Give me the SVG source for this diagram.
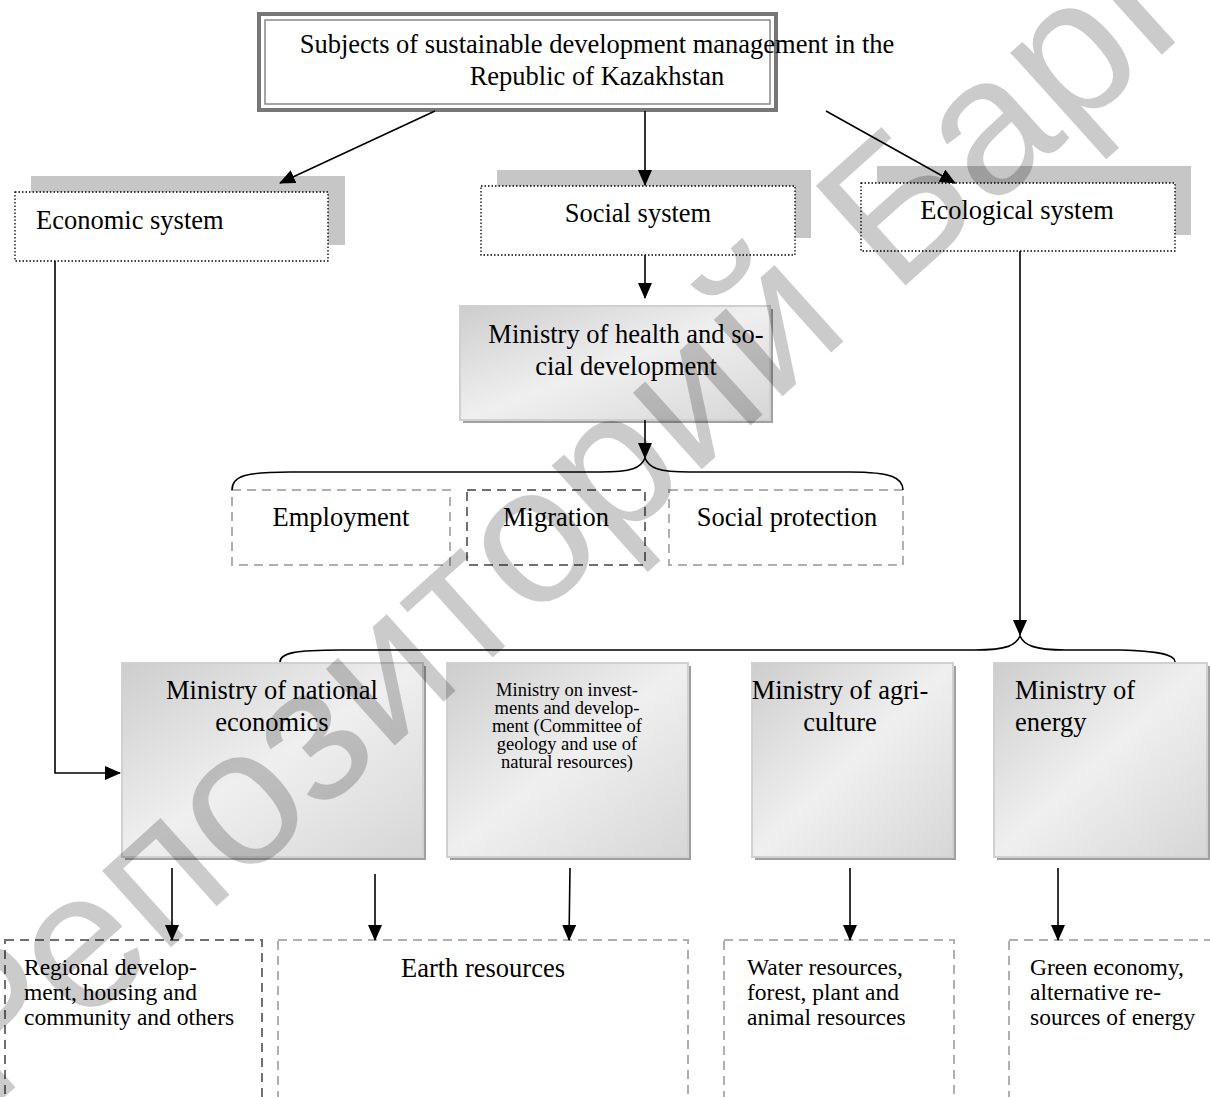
<svg xmlns="http://www.w3.org/2000/svg" width="1210" height="1097" viewBox="0 0 1210 1097">
<defs>
<marker id="ah" markerWidth="16" markerHeight="14" refX="15" refY="7" orient="auto" markerUnits="userSpaceOnUse">
<path d="M0,0 L16,7 L0,14 Z" fill="#000"/>
</marker>
<linearGradient id="g" x1="0" y1="0" x2="1" y2="1">
<stop offset="0" stop-color="#cdcdcd"/>
<stop offset="0.5" stop-color="#efefef"/>
<stop offset="1" stop-color="#d6d6d6"/>
</linearGradient>
<style>
text{font-family:"Liberation Serif","Times New Roman",serif;fill:#000;}
.t22{font-size:26.5px;}
.t19{font-size:23.5px;}
.t17{font-size:18.5px;}
.dot{fill:#fff;stroke:#000;stroke-width:1.3;stroke-dasharray:1.5 2;}
.sh{fill:#c6c6c6;}
.min{fill:url(#g);stroke:#d0d0d0;stroke-width:2;}
.msh{fill:#a0a0a0;}
.dl{fill:none;stroke:#b0b0b0;stroke-width:2;stroke-dasharray:9 6;}
.dd{fill:none;stroke:#707070;stroke-width:2;stroke-dasharray:9 6;}
.c{fill:none;stroke:#000;stroke-width:1.6;}
.wm{font-family:"Liberation Sans",Arial,sans-serif;font-size:195px;fill:#000;opacity:0.2;}
</style>
</defs>
<rect width="1210" height="1097" fill="#fff"/>

<g id="title">
<rect x="259" y="14" width="517" height="96" fill="#fff" stroke="#777" stroke-width="4"/>
<rect x="265" y="20" width="505" height="84" fill="none" stroke="#888" stroke-width="1.5"/>
<text class="t22" x="597" y="53" text-anchor="middle">Subjects of sustainable development management in the</text>
<text class="t22" x="597" y="85" text-anchor="middle">Republic of Kazakhstan</text>
</g>

<g id="economic">
<rect class="sh" x="31" y="176" width="314" height="69"/>
<rect class="dot" x="15" y="192" width="313" height="69"/>
<text class="t22" x="36" y="229">Economic system</text>
</g>
<g id="social">
<rect class="sh" x="497" y="170" width="314" height="68"/>
<rect class="dot" x="481" y="186" width="314" height="69"/>
<text class="t22" x="638" y="222" text-anchor="middle">Social system</text>
</g>
<g id="ecological">
<rect class="sh" x="877" y="166" width="314" height="69"/>
<rect class="dot" x="861" y="183" width="314" height="68"/>
<text class="t22" x="1017" y="219" text-anchor="middle">Ecological system</text>
</g>

<g id="health">
<rect class="msh" x="463" y="309" width="310" height="114"/>
<rect class="min" x="460" y="306" width="310" height="114"/>
<text class="t22" x="626" y="343" text-anchor="middle">Ministry of health and so-</text>
<text class="t22" x="626" y="375" text-anchor="middle">cial development</text>
</g>

<g id="employment">
<rect class="dl" x="232" y="490" width="218" height="75"/>
<text class="t22" x="341" y="526" text-anchor="middle">Employment</text>
</g>
<g id="migration">
<rect class="dd" x="467" y="490" width="178" height="75"/>
<text class="t22" x="556" y="526" text-anchor="middle">Migration</text>
</g>
<g id="socprot">
<rect class="dl" x="669" y="490" width="234" height="75"/>
<text class="t22" x="787" y="526" text-anchor="middle">Social protection</text>
</g>

<g id="natecon">
<rect class="msh" x="125" y="666" width="301" height="194"/>
<rect class="min" x="122" y="663" width="301" height="194"/>
<text class="t22" x="272" y="699" text-anchor="middle">Ministry of national</text>
<text class="t22" x="272" y="731" text-anchor="middle">economics</text>
</g>
<g id="invest">
<rect class="msh" x="450" y="666" width="241" height="194"/>
<rect class="min" x="447" y="663" width="241" height="194"/>
<text class="t17" x="567" y="696" text-anchor="middle">Ministry on invest-</text>
<text class="t17" x="567" y="714" text-anchor="middle">ments and develop-</text>
<text class="t17" x="567" y="732" text-anchor="middle">ment (Committee of</text>
<text class="t17" x="567" y="750" text-anchor="middle">geology and use of</text>
<text class="t17" x="567" y="768" text-anchor="middle">natural resources)</text>
</g>
<g id="agri">
<rect class="msh" x="755" y="666" width="201" height="194"/>
<rect class="min" x="752" y="663" width="201" height="194"/>
<text class="t22" x="840" y="699" text-anchor="middle">Ministry of agri-</text>
<text class="t22" x="840" y="731" text-anchor="middle">culture</text>
</g>
<g id="energy">
<rect class="msh" x="997" y="666" width="213" height="194"/>
<rect class="min" x="994" y="663" width="213" height="194"/>
<text class="t22" x="1015" y="699">Ministry of</text>
<text class="t22" x="1015" y="731">energy</text>
</g>

<g id="regional">
<rect class="dd" x="5" y="940" width="257" height="180"/>
<text class="t19" x="24" y="975">Regional develop-</text>
<text class="t19" x="24" y="1000">ment, housing and</text>
<text class="t19" x="24" y="1025">community and others</text>
</g>
<g id="earth">
<rect class="dl" x="278" y="940" width="410" height="180"/>
<text class="t22" x="483" y="977" text-anchor="middle">Earth resources</text>
</g>
<g id="water">
<rect class="dl" x="724" y="940" width="230" height="180"/>
<text class="t19" x="747" y="975">Water resources,</text>
<text class="t19" x="747" y="1000">forest, plant and</text>
<text class="t19" x="747" y="1025">animal resources</text>
</g>
<g id="green">
<rect class="dl" x="1009" y="940" width="230" height="180"/>
<text class="t19" x="1030" y="975">Green economy,</text>
<text class="t19" x="1030" y="1000">alternative re-</text>
<text class="t19" x="1030" y="1025">sources of energy</text>
</g>

<g id="connectors">
<line class="c" x1="435" y1="111" x2="280" y2="183" marker-end="url(#ah)"/>
<line class="c" x1="645" y1="111" x2="645" y2="185" marker-end="url(#ah)"/>
<line class="c" x1="826" y1="111" x2="955" y2="183" marker-end="url(#ah)"/>
<line class="c" x1="645" y1="255" x2="645" y2="298" marker-end="url(#ah)"/>
<line class="c" x1="645" y1="420" x2="645" y2="458" marker-end="url(#ah)"/>
<path class="c" d="M232,490 C232,476 245,472 290,472 L600,472 C632,472 641,468 645,458 C649,468 658,472 690,472 L850,472 C892,472 903,478 903,490"/>
<line class="c" x1="1020" y1="251" x2="1020" y2="635" marker-end="url(#ah)"/>
<path class="c" d="M280,662 C280,653 295,650 340,650 L975,650 C1008,650 1016,645 1020,636 C1024,645 1034,650 1065,650 L1120,650 C1165,651 1175,656 1175,662"/>
<polyline class="c" points="55,261 55,773 120,773" marker-end="url(#ah)"/>
<line class="c" x1="172" y1="868" x2="172" y2="940" marker-end="url(#ah)"/>
<line class="c" x1="375" y1="874" x2="375" y2="940" marker-end="url(#ah)"/>
<line class="c" x1="570" y1="868" x2="569" y2="940" marker-end="url(#ah)"/>
<line class="c" x1="850" y1="868" x2="850" y2="940" marker-end="url(#ah)"/>
<line class="c" x1="1058" y1="868" x2="1058" y2="940" marker-end="url(#ah)"/>
</g>

<text class="wm" x="0" y="0" transform="translate(-10,1110) rotate(-42)">Репозиторий БарГУ</text>
</svg>
